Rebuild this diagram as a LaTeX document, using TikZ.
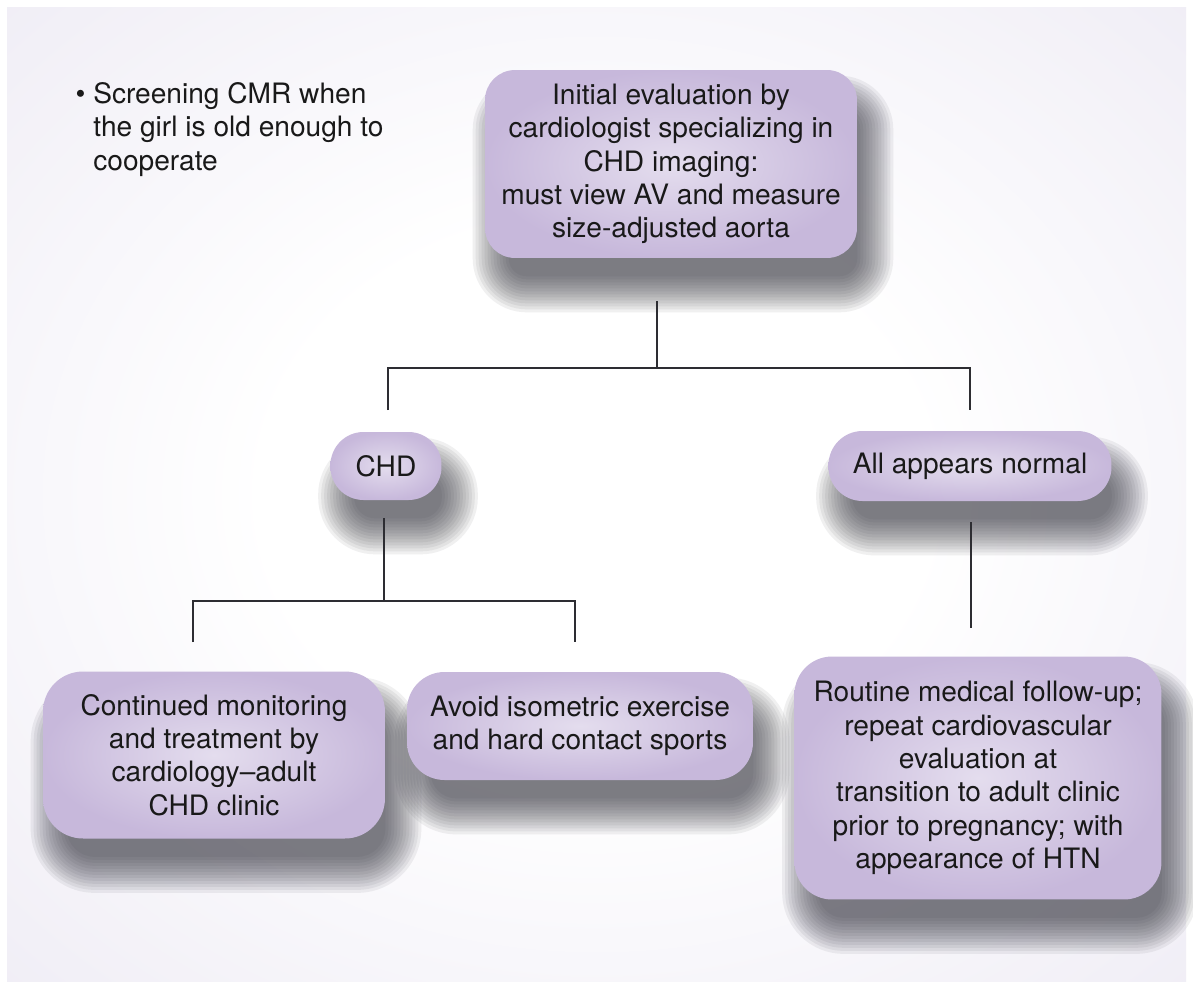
\documentclass[tikz,border=0pt]{standalone}
\usepackage{fontspec}
\setmainfont{TeX Gyre Heros}
\usepackage{xcolor}
\usepackage{tikz}
\usetikzlibrary{calc}
\definecolor{bglav}{RGB}{229,225,239}
\definecolor{boxin}{RGB}{228,221,238}
\definecolor{boxout}{RGB}{199,184,219}
\definecolor{linkgray}{RGB}{45,45,50}
\definecolor{shadegray}{RGB}{55,55,65}
\pgfdeclareradialshading{bgglow}{\pgfpoint{0bp}{0bp}}{color(0bp)=(white); color(14bp)=(white); color(52bp)=(bglav); color(80bp)=(bglav)}
\pgfdeclarelayer{paper}
\pgfdeclarelayer{boxshadow}
\pgfsetlayers{paper,boxshadow,main}
\tikzset{
  flowbox/.style={
    draw=none,
    shading=radial,
    inner color=boxin,
    outer color=boxout,
    align=center,
    font=\fontsize{16}{19}\selectfont,
    text=black!90,
    inner sep=0pt,
    rounded corners=0.75cm
  },
  pillbox/.style={
    flowbox,
    rounded corners=0.66cm
  },
  shadowlayer/.style={fill=shadegray,fill opacity=0.075,draw=none},
  link/.style={draw=linkgray,line width=1.1pt}
}

\begin{document}
\begin{tikzpicture}[x=0.02cm,y=-0.02cm]
\useasboundingbox (0,0) rectangle (1193,988);
\begin{pgfonlayer}{paper}
\fill[white] (0,0) rectangle (1193,988);
\shade[shading=bgglow] (7,7) rectangle (1186,981);
\end{pgfonlayer}
\node[anchor=north west,align=left,inner sep=0pt,font=\fontsize{16}{19}\selectfont,text=black!90] (screen) at (93,82) {\llap{\textbullet\ }Screening CMR when\\the girl is old enough to\\cooperate};
\node[flowbox,rounded corners=0.6cm,minimum width=7.44cm,minimum height=3.76cm] (initial) at (671,164) {Initial evaluation by\\cardiologist specializing in\\CHD imaging:\\must view AV and measure\\size-adjusted aorta};
\node[pillbox,minimum width=2.22cm,minimum height=1.36cm] (chd) at (386,466) {CHD};
\node[pillbox,rounded corners=0.68cm,minimum width=5.66cm,minimum height=1.4cm] (normal) at (970,466) {All appears normal};
\node[flowbox,rounded corners=0.8cm,minimum width=6.84cm,minimum height=3.34cm] (monitor) at (214,755) {Continued monitoring\\and treatment by\\cardiology--adult\\CHD clinic};
\node[flowbox,minimum width=6.92cm,minimum height=2.16cm] (avoid) at (580,726) {Avoid isometric exercise\\and hard contact sports};
\node[flowbox,minimum width=7.34cm,minimum height=4.86cm] (routine) at (978,778) {Routine medical follow-up;\\repeat cardiovascular\\evaluation at\\transition to adult clinic\\prior to pregnancy; with\\appearance of HTN};
\begin{pgfonlayer}{boxshadow}
\foreach \n/\r in {initial/0.6,chd/0.66,normal/0.68,monitor/0.8,avoid/0.75,routine/0.75}
  \foreach \e in {24,21,...,-12}{
    \pgfmathsetmacro\rr{max(\r+0.02*\e,0.06)}
    \fill[shadowlayer,rounded corners=\rr cm] ($(\n.north west)+(12-\e,30-\e)$) rectangle ($(\n.south east)+(12+\e,30+\e)$);
  }
\end{pgfonlayer}
\coordinate (initstem) at (657,301);
\coordinate (initbus) at (657,368);
\coordinate (chdtop) at (388,410);
\coordinate (normaltop) at (970,410);
\coordinate (chdstem) at (384,518);
\coordinate (chdbus) at (384,601);
\coordinate (monitortop) at (193,642);
\coordinate (avoidtop) at (575,642);
\coordinate (normalstem) at (971,522);
\coordinate (routinetop) at (971,628);
\draw[link] (initstem)--(initbus);
\draw[link] (chdtop) |- (initbus) -| (normaltop);
\draw[link] (chdstem)--(chdbus);
\draw[link] (monitortop) |- (chdbus) -| (avoidtop);
\draw[link] (normalstem)--(routinetop);
\end{tikzpicture}
\end{document}
